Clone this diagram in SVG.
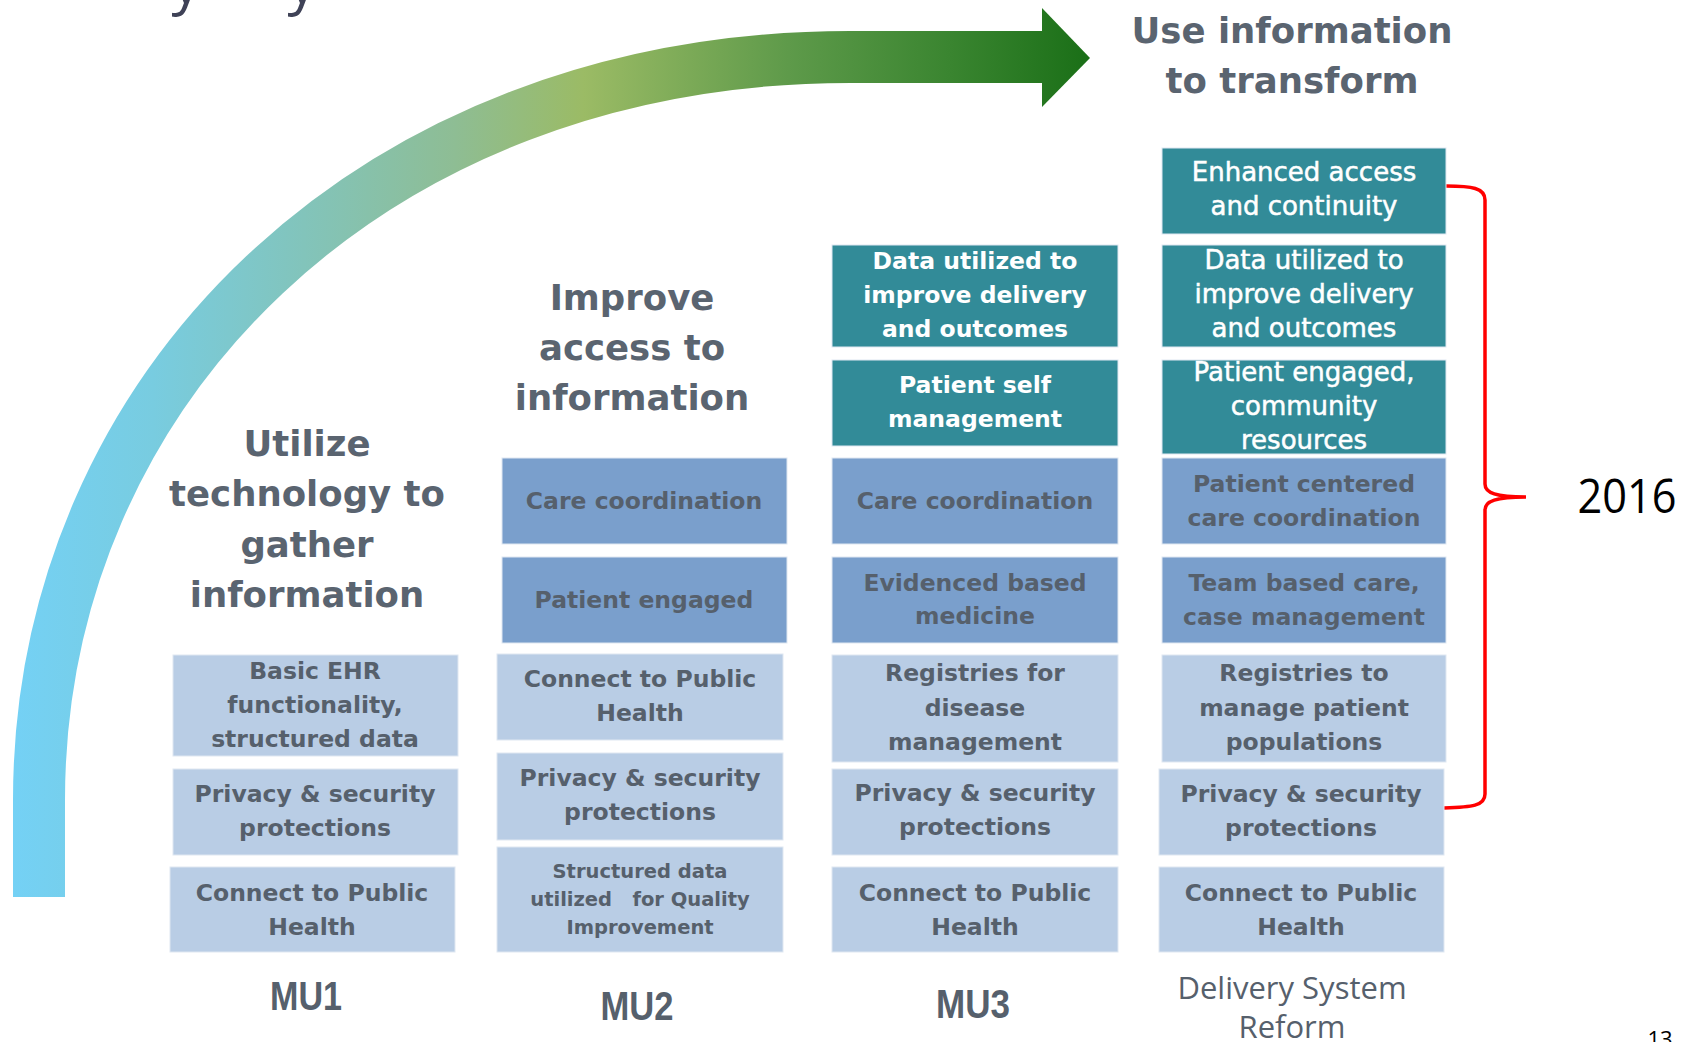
<svg xmlns="http://www.w3.org/2000/svg" width="1695" height="1042" viewBox="0 0 1695 1042">
<defs>
<linearGradient id="arcGrad" gradientUnits="userSpaceOnUse" x1="13" y1="0" x2="1090" y2="0">
<stop offset="0" stop-color="#74D1F5"/>
<stop offset="0.13" stop-color="#78CCE0"/>
<stop offset="0.27" stop-color="#82C4BB"/>
<stop offset="0.41" stop-color="#8EBD94"/>
<stop offset="0.53" stop-color="#9BBB65"/>
<stop offset="0.72" stop-color="#5E9A4A"/>
<stop offset="0.87" stop-color="#3A8530"/>
<stop offset="1" stop-color="#1A6F17"/>
</linearGradient>
<style>
.bx{stroke:#dfe7f1;stroke-width:1}
.teal{fill:#328B98}
.mid{fill:#7A9FCC}
.lt{fill:#B9CDE5}
.g{font-family:"DejaVu Sans",Verdana,sans-serif;font-weight:bold;font-size:23.5px;fill:#56606C;text-anchor:middle}
.w{font-family:"DejaVu Sans",Verdana,sans-serif;font-weight:bold;font-size:23.5px;fill:#FFFFFF;text-anchor:middle}
.w4{font-family:"DejaVu Sans",Verdana,sans-serif;font-size:26px;fill:#FFFFFF;stroke:#FFFFFF;stroke-width:0.5;text-anchor:middle}
.sm{font-family:"DejaVu Sans",Verdana,sans-serif;font-weight:bold;font-size:19.5px;fill:#56606C;text-anchor:middle}
.ttl{font-family:"DejaVu Sans",Verdana,sans-serif;font-weight:bold;font-size:35.5px;fill:#5A6470;text-anchor:middle}
.mu{font-family:"Liberation Sans",Arial,sans-serif;font-weight:bold;font-size:40px;fill:#56606C;text-anchor:middle}
.dsr{font-family:"Open Sans","Noto Sans",sans-serif;font-size:31px;fill:#56606C;text-anchor:middle}
</style>
</defs>
<rect width="1695" height="1042" fill="#FFFFFF"/>

<g id="title-fragment">
<text x="186" y="3" font-family="Open Sans, sans-serif" font-size="58" fill="#3F4257" text-anchor="middle">y</text>
<text x="302" y="3" font-family="Open Sans, sans-serif" font-size="58" fill="#3F4257" text-anchor="middle">y</text>
</g>

<g id="connectors">
<path d="M39,897 L39,800 C39,390 370,57 850,57 L1044,57" fill="none" stroke="url(#arcGrad)" stroke-width="52"/>
<polygon points="1042,8 1090,58 1042,107" fill="url(#arcGrad)"/>
<path d="M1446,186 C1472,186 1485,188 1485,200 L1485,484 C1485,493 1496,497 1526,497 C1496,497 1485,501 1485,510 L1485,794 C1485,806 1472,807 1444,808" fill="none" stroke="#FF0000" stroke-width="3.5"/>
</g>

<g id="label-use">
<text class="ttl" x="1292" y="43">Use information</text>
<text class="ttl" x="1292" y="93">to transform</text>
</g>
<g id="label-utilize">
<text class="ttl" x="307" y="456">Utilize</text>
<text class="ttl" x="307" y="506">technology to</text>
<text class="ttl" x="307" y="557">gather</text>
<text class="ttl" x="307" y="607">information</text>
</g>
<g id="label-improve">
<text class="ttl" x="632" y="310">Improve</text>
<text class="ttl" x="632" y="360">access to</text>
<text class="ttl" x="632" y="410">information</text>
</g>

<!-- Column MU1 -->
<g id="mu1-basic">
<rect class="bx lt" x="173" y="655" width="285" height="101"/>
<text class="g" x="315" y="679">Basic EHR</text>
<text class="g" x="315" y="713">functionality,</text>
<text class="g" x="315" y="747">structured data</text>
</g>
<g id="mu1-privacy">
<rect class="bx lt" x="173" y="769" width="285" height="86"/>
<text class="g" x="315" y="802">Privacy &amp; security</text>
<text class="g" x="315" y="836">protections</text>
</g>
<g id="mu1-connect">
<rect class="bx lt" x="170" y="867" width="285" height="85"/>
<text class="g" x="312" y="901">Connect to Public</text>
<text class="g" x="312" y="935">Health</text>
</g>
<g id="mu1-label"><text class="mu" x="306" y="1010" textLength="72" lengthAdjust="spacingAndGlyphs">MU1</text></g>

<!-- Column MU2 -->
<g id="mu2-care">
<rect class="bx mid" x="502" y="458" width="285" height="86"/>
<text class="g" x="644" y="509">Care coordination</text>
</g>
<g id="mu2-engaged">
<rect class="bx mid" x="502" y="557" width="285" height="86"/>
<text class="g" x="644" y="608">Patient engaged</text>
</g>
<g id="mu2-connect">
<rect class="bx lt" x="497" y="654" width="286" height="86"/>
<text class="g" x="640" y="687">Connect to Public</text>
<text class="g" x="640" y="721">Health</text>
</g>
<g id="mu2-privacy">
<rect class="bx lt" x="497" y="753" width="286" height="87"/>
<text class="g" x="640" y="786">Privacy &amp; security</text>
<text class="g" x="640" y="820">protections</text>
</g>
<g id="mu2-structured">
<rect class="bx lt" x="497" y="847" width="286" height="105"/>
<text class="sm" x="640" y="878">Structured data</text>
<text class="sm" x="640" y="906">utilized &#160; for Quality</text>
<text class="sm" x="640" y="934">Improvement</text>
</g>
<g id="mu2-label"><text class="mu" x="637" y="1020" textLength="73" lengthAdjust="spacingAndGlyphs">MU2</text></g>

<!-- Column MU3 -->
<g id="mu3-data">
<rect class="bx teal" x="832" y="245" width="286" height="102"/>
<text class="w" x="975" y="269">Data utilized to</text>
<text class="w" x="975" y="303">improve delivery</text>
<text class="w" x="975" y="337">and outcomes</text>
</g>
<g id="mu3-self">
<rect class="bx teal" x="832" y="360" width="286" height="86"/>
<text class="w" x="975" y="393">Patient self</text>
<text class="w" x="975" y="427">management</text>
</g>
<g id="mu3-care">
<rect class="bx mid" x="832" y="458" width="286" height="86"/>
<text class="g" x="975" y="509">Care coordination</text>
</g>
<g id="mu3-evidence">
<rect class="bx mid" x="832" y="557" width="286" height="86"/>
<text class="g" x="975" y="591">Evidenced based</text>
<text class="g" x="975" y="624">medicine</text>
</g>
<g id="mu3-registries">
<rect class="bx lt" x="832" y="655" width="286" height="107"/>
<text class="g" x="975" y="681">Registries for</text>
<text class="g" x="975" y="716">disease</text>
<text class="g" x="975" y="750">management</text>
</g>
<g id="mu3-privacy">
<rect class="bx lt" x="832" y="769" width="286" height="86"/>
<text class="g" x="975" y="801">Privacy &amp; security</text>
<text class="g" x="975" y="835">protections</text>
</g>
<g id="mu3-connect">
<rect class="bx lt" x="832" y="867" width="286" height="85"/>
<text class="g" x="975" y="901">Connect to Public</text>
<text class="g" x="975" y="935">Health</text>
</g>
<g id="mu3-label"><text class="mu" x="973" y="1018" textLength="74" lengthAdjust="spacingAndGlyphs">MU3</text></g>

<!-- Column Delivery System Reform -->
<g id="dsr-enhanced">
<rect class="bx teal" x="1162" y="148" width="284" height="86"/>
<text class="w4" x="1304" y="181">Enhanced access</text>
<text class="w4" x="1304" y="215">and continuity</text>
</g>
<g id="dsr-data">
<rect class="bx teal" x="1162" y="245" width="284" height="102"/>
<text class="w4" x="1304" y="269">Data utilized to</text>
<text class="w4" x="1304" y="303">improve delivery</text>
<text class="w4" x="1304" y="337">and outcomes</text>
</g>
<g id="dsr-engaged">
<rect class="bx teal" x="1162" y="360" width="284" height="94"/>
<text class="w4" x="1304" y="381">Patient engaged,</text>
<text class="w4" x="1304" y="415">community</text>
<text class="w4" x="1304" y="449">resources</text>
</g>
<g id="dsr-centered">
<rect class="bx mid" x="1162" y="458" width="284" height="86"/>
<text class="g" x="1304" y="492">Patient centered</text>
<text class="g" x="1304" y="526">care coordination</text>
</g>
<g id="dsr-team">
<rect class="bx mid" x="1162" y="557" width="284" height="86"/>
<text class="g" x="1304" y="591">Team based care,</text>
<text class="g" x="1304" y="625">case management</text>
</g>
<g id="dsr-registries">
<rect class="bx lt" x="1162" y="655" width="284" height="107"/>
<text class="g" x="1304" y="681">Registries to</text>
<text class="g" x="1304" y="716">manage patient</text>
<text class="g" x="1304" y="750">populations</text>
</g>
<g id="dsr-privacy">
<rect class="bx lt" x="1159" y="769" width="285" height="86"/>
<text class="g" x="1301" y="802">Privacy &amp; security</text>
<text class="g" x="1301" y="836">protections</text>
</g>
<g id="dsr-connect">
<rect class="bx lt" x="1159" y="867" width="285" height="85"/>
<text class="g" x="1301" y="901">Connect to Public</text>
<text class="g" x="1301" y="935">Health</text>
</g>
<g id="dsr-label">
<text class="dsr" x="1292" y="999">Delivery System</text>
<text class="dsr" x="1292" y="1038">Reform</text>
</g>

<g id="year-2016">
<text x="1627" y="513" font-family="Open Sans, Noto Sans, sans-serif" font-size="47" fill="#000000" text-anchor="middle" textLength="99" lengthAdjust="spacingAndGlyphs">2016</text>
</g>
<g id="page-number">
<text x="1660" y="1047" font-family="Open Sans, Noto Sans, sans-serif" font-size="22" fill="#000000" text-anchor="middle">13</text>
</g>
</svg>
